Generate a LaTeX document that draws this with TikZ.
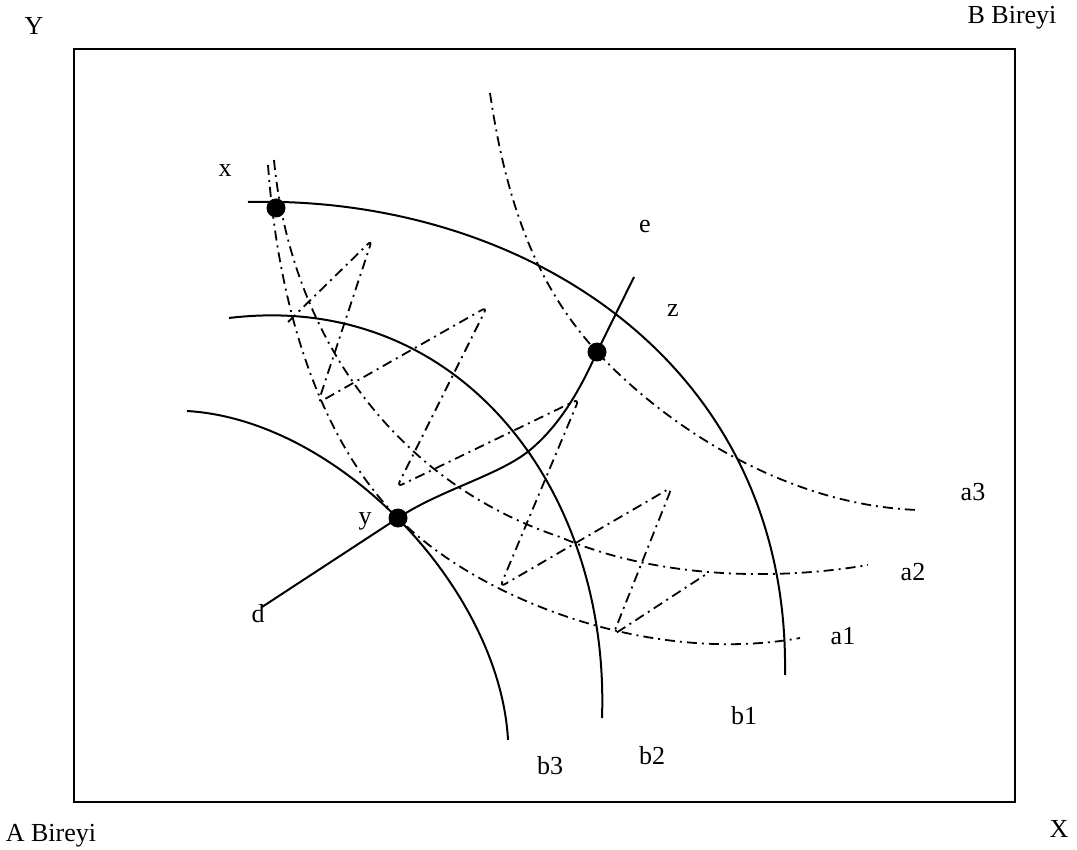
\documentclass[tikz,border=0pt]{standalone}
\usepackage{fontspec}
\setmainfont{Liberation Serif}
\begin{document}
\begin{tikzpicture}[x=0.5pt,y=-0.5pt,
  frame/.style={line width=0.8pt},
  solidcurve/.style={line width=1pt},
  indiff/.style={line width=0.9pt, dash pattern=on 5pt off 2.5pt on 1pt off 2.5pt},
  dotnode/.style={circle, fill=black, inner sep=0pt, minimum size=9.5pt},
  lbl/.style={font=\fontsize{13}{15}\selectfont, inner sep=0pt}]
\useasboundingbox (0,0) rectangle (1077,850);
\draw[frame] (74,49) rectangle (1015,802);

% corner labels
\node[lbl] (Ylab) at (34,26) {Y};
\node[lbl] (Blab) at (1012,18) {B Bireyi};
\node[lbl] (Alab) at (51,836) {A Bireyi};
\node[lbl] (Xlab) at (1059,829) {X};

% points
\coordinate (xp) at (276,208);
\coordinate (yp) at (398,518);
\coordinate (zp) at (597,352);
\coordinate (dend) at (262,607);
\coordinate (eend) at (634,277);

% B curves (solid)
\draw[solidcurve] (248,202) .. controls (520,195) and (790,360) .. (785,675);
\draw[solidcurve] (229,318) .. controls (460,290) and (610,490) .. (602,718);
\draw[solidcurve] (187,411) .. controls (340,420) and (500,590) .. (508,740);

% A curves (dash-dot)
\draw[indiff] (268,165) .. controls (280,330) and (330,450) .. (yp)
  .. controls (480,600) and (650,665) .. (800,638);
\draw[indiff] (274,160) .. controls (290,330) and (390,480) .. (560,537)
  .. controls (660,580) and (780,580) .. (868,565);
\draw[indiff] (490,93) .. controls (510,230) and (550,300) .. (zp)
  .. controls (660,420) and (780,505) .. (918,510);

% zigzag
\draw[indiff, rounded corners=3pt] (288,322) -- (372,240) -- (318,403) -- (487,307)
  -- (397,487) -- (579,399) -- (500,587) -- (672,487) -- (613,635) -- (705,575);

% contract curve
\draw[solidcurve] (dend) -- (yp) .. controls (440,490) and (500,475) .. (530,450)
  .. controls (560,425) and (580,390) .. (zp) -- (eend);

% dots
\node[dotnode] (X) at (xp) {};
\node[dotnode] (Yd) at (yp) {};
\node[dotnode] (Z) at (zp) {};

% labels
\node[lbl] (lx) at (225,171) {x};
\node[lbl] (le) at (645,227) {e};
\node[lbl] (lz) at (673,311) {z};
\node[lbl] (ly) at (365,521) {y};
\node[lbl] (ld) at (258,614) {d};
\node[lbl] (la3) at (973,492) {a3};
\node[lbl] (la2) at (913,572) {a2};
\node[lbl] (la1) at (843,636) {a1};
\node[lbl] (lb1) at (744,716) {b1};
\node[lbl] (lb2) at (652,756) {b2};
\node[lbl] (lb3) at (550,766) {b3};
\end{tikzpicture}
\end{document}
